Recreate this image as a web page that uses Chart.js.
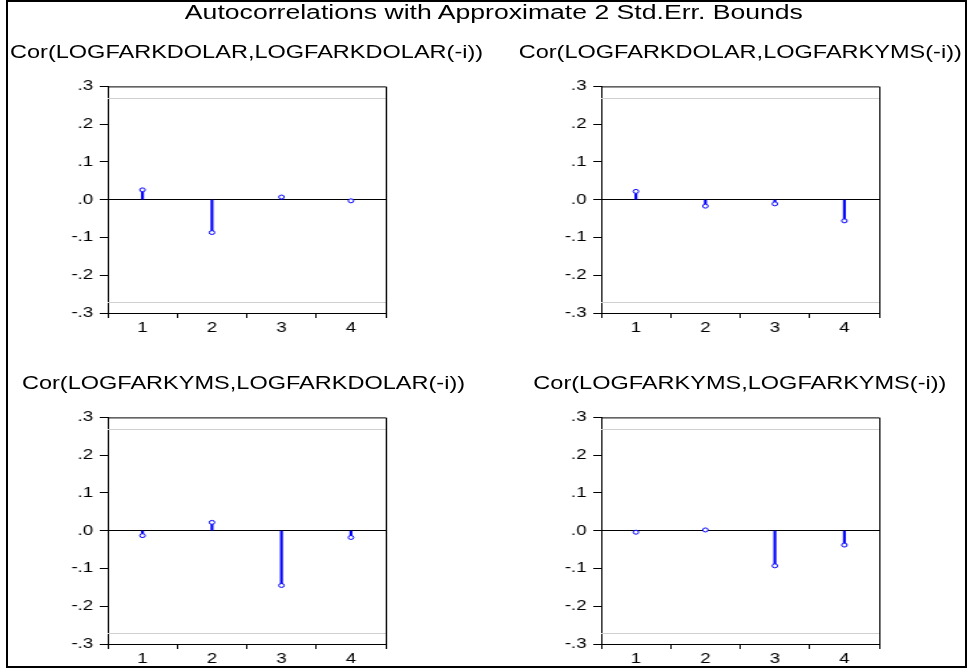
<!DOCTYPE html>
<html lang="en">
<head>
<meta charset="UTF-8">
<title>Autocorrelations</title>
<script src="https://cdn.jsdelivr.net/npm/chart.js"></script>
<style>
  html, body { margin: 0; padding: 0; background: #fff; }
  body { width: 967px; height: 669px; position: relative; overflow: hidden; }
  #frame { position: absolute; left: 6px; top: 0; width: 961px; height: 668px; border: 2px solid #000; box-sizing: border-box; }
  /* original output is stretched horizontally, so draw narrow and stretch */
  #wrap { position: absolute; left: 0; top: 0; width: 727px; height: 669px; transform: scaleX(1.33); transform-origin: 0 0; }
  .txt { position: absolute; font-family: "Liberation Sans", Arial, sans-serif; color: #000; white-space: nowrap; }
  .title { font-size: 20px; line-height: 20px; }
  .sub { font-size: 17.7px; line-height: 18px; }
  .box { position: absolute; }
</style>
</head>
<body>
<div id="frame"></div>
<div id="wrap">
  <div class="txt title" style="left:139px; top:2px;">Autocorrelations with Approximate 2 Std.Err. Bounds</div>
  <div class="txt sub" style="left:7.5px; top:43px;">Cor(LOGFARKDOLAR,LOGFARKDOLAR(-i))</div>
  <div class="txt sub" style="left:390px; top:43px;">Cor(LOGFARKDOLAR,LOGFARKYMS(-i))</div>
  <div class="txt sub" style="left:16.5px; top:374px;">Cor(LOGFARKYMS,LOGFARKDOLAR(-i))</div>
  <div class="txt sub" style="left:401px; top:374px;">Cor(LOGFARKYMS,LOGFARKYMS(-i))</div>
</div>

<script>
const lags = ['1', '2', '3', '4'];
const corDolarDolar = [0.026, -0.087, 0.007, -0.003];
const corDolarYms = [0.022, -0.017, -0.011, -0.056];
const corYmsDolar = [-0.013, 0.022, -0.145, -0.018];
const corYmsYms = [-0.004, 0.002, -0.093, -0.038];
const stdErrBound = 0.27;
const yTickLabels = ['-.3', '-.2', '-.1', '.0', '.1', '.2', '.3'];

Chart.defaults.font.family = '"Liberation Sans", Arial, sans-serif';
Chart.defaults.font.size = 14;
Chart.defaults.color = '#000';

// light grey bound lines + box around plot area
const boundsPlugin = {
  id: 'bounds',
  beforeDatasetsDraw(chart) {
    const y = chart.scales.y, a = chart.chartArea, c = chart.ctx;
    c.save();
    c.strokeStyle = '#d0d0d0';
    c.lineWidth = 1;
    [stdErrBound, -stdErrBound].forEach(v => {
      const py = Math.round(y.getPixelForValue(v)) + 0.5;
      c.beginPath();
      c.moveTo(a.left, py);
      c.lineTo(a.right, py);
      c.stroke();
    });
    c.restore();
  },
  afterDraw(chart) {
    const a = chart.chartArea, c = chart.ctx;
    c.save();
    c.strokeStyle = '#000';
    c.lineWidth = 1;
    c.beginPath();
    c.moveTo(a.left, a.top + 0.5);
    c.lineTo(a.right + 0.5, a.top + 0.5);
    c.lineTo(a.right + 0.5, a.bottom);
    c.stroke();
    c.restore();
  }
};

const YW = 40, XH = 30, PT = 8, PR = 10;

function makePanel(values, plotLeft, plotTop, plotW, plotH) {
  const box = document.createElement('div');
  box.className = 'box';
  box.style.left = (plotLeft - YW) + 'px';
  box.style.top = (plotTop - PT) + 'px';
  box.style.width = (YW + plotW + PR) + 'px';
  box.style.height = (PT + plotH + XH) + 'px';
  const cv = document.createElement('canvas');
  box.appendChild(cv);
  document.getElementById('wrap').appendChild(box);

  new Chart(cv, {
    data: {
      labels: lags,
      datasets: [
        {
          type: 'line',
          data: values,
          showLine: false,
          pointStyle: 'circle',
          pointRadius: 2,
          pointBorderWidth: 1,
          pointBorderColor: '#0000ff',
          pointBackgroundColor: '#fff',
          order: 0
        },
        {
          type: 'bar',
          data: values,
          backgroundColor: '#0000ff',
          barThickness: 1.5,
          order: 1
        }
      ]
    },
    options: {
      responsive: true,
      maintainAspectRatio: false,
      animation: false,
      layout: { padding: { top: PT, right: PR, left: 0, bottom: 0 } },
      plugins: { legend: { display: false }, tooltip: { enabled: false } },
      scales: {
        x: {
          type: 'category',
          offset: true,
          grid: { offset: true, drawOnChartArea: false, tickLength: 5, tickColor: '#000' },
          border: { color: '#000', width: 1 },
          ticks: { padding: 2, maxRotation: 0 },
          afterFit(s) { s.height = XH; }
        },
        y: {
          min: -0.3,
          max: 0.3,
          grid: {
            tickLength: 6,
            tickColor: '#000',
            color: ctx => (ctx.tick && Math.abs(ctx.tick.value) < 1e-9) ? '#000' : 'rgba(0,0,0,0)',
            lineWidth: 1
          },
          border: { color: '#000', width: 1 },
          ticks: {
            stepSize: 0.1,
            padding: 5,
            callback: (v, i) => yTickLabels[i]
          },
          afterFit(s) { s.width = YW; }
        }
      }
    },
    plugins: [boundsPlugin]
  });
}

const sx = 1.33;
makePanel(corDolarDolar, 108 / sx, 81, 278 / sx, 232);
makePanel(corDolarYms, 601 / sx, 81, 278 / sx, 232);
makePanel(corYmsDolar, 108 / sx, 412, 278 / sx, 232);
makePanel(corYmsYms, 601 / sx, 412, 278 / sx, 232);
</script>
</body>
</html>
